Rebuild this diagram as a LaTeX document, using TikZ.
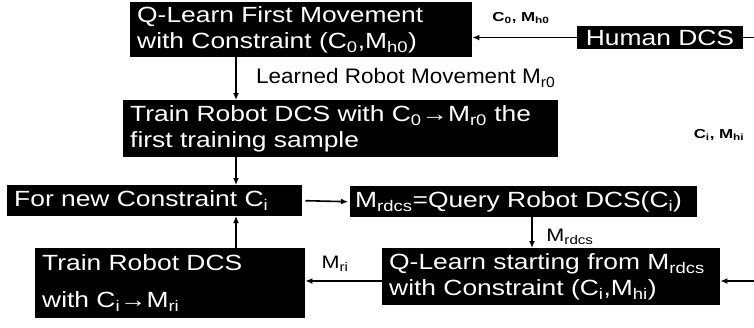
\documentclass[tikz,border=0pt]{standalone}
\usepackage{fontspec}
\setmainfont{Liberation Sans}
\newfontfamily\bxf[FakeStretch=1.2]{Liberation Sans}
\newfontfamily\lbf[FakeStretch=1.07]{Liberation Sans}
\newfontfamily\smf[FakeStretch=1.3]{Liberation Sans}
\usetikzlibrary{arrows.meta,calc}
\tikzset{
  box/.style={rectangle, fill=black, text=white, anchor=north west, inner xsep=7pt, inner ysep=0pt, align=left, font=\bxf\fontsize{22}{26}\selectfont},
  conn/.style={draw=black, line width=1.6pt, -{Latex[length=7pt,width=6pt]}},
  plain/.style={draw=black, line width=1.6pt},
  smlab/.style={inner sep=0pt, font=\smf\bfseries\fontsize{13}{15}\selectfont},
  mlab/.style={inner sep=0pt, font=\bxf\fontsize{18}{20}\selectfont},
}
\begin{document}
\begin{tikzpicture}[x=1pt,y=-1pt]
\useasboundingbox[fill=white] (0,0) rectangle (754,327);
% boxes
\node[box, minimum width=342pt, minimum height=55pt, text width=328pt] (b1) at (130,2)
  {Q-Learn First Movement\\with Constraint (C\textsubscript{0},M\textsubscript{h0})};
\node[box, anchor=center, align=center, minimum width=166pt, minimum height=23pt] (hd) at (660,37.5) {Human DCS};
\node[box, minimum width=435pt, minimum height=57pt, text width=421pt] (b2) at (123,100)
  {Train Robot DCS with C\textsubscript{0}→M\textsubscript{r0} the\\first training sample};
\node[box, minimum width=295pt, minimum height=31pt, text width=281pt] (b3) at (7,185)
  {For new Constraint C\textsubscript{i}};
\node[box, minimum width=347pt, minimum height=31pt, text width=337pt, inner xsep=5pt] (b4) at (350,186)
  {M\textsubscript{rdcs}=Query Robot DCS(C\textsubscript{i})};
\node[box, minimum width=270pt, minimum height=70pt, text width=256pt, font=\bxf\fontsize{22}{37}\selectfont] (b5) at (35,248)
  {Train Robot DCS\\with C\textsubscript{i}→M\textsubscript{ri}};
\node[box, minimum width=338pt, minimum height=57pt, text width=324pt] (b6) at (382,248)
  {Q-Learn starting from M\textsubscript{rdcs}\\with Constraint (C\textsubscript{i},M\textsubscript{hi})};
% edge coordinates
\coordinate (e1) at (754,37.5);
\coordinate (e2) at (754,281);
% labels
\node[smlab] (l1) at (521,18) {C\textsubscript{0}, M\textsubscript{h0}};
\node[smlab] (l2) at (719,135) {C\textsubscript{i}, M\textsubscript{hi}};
\node[inner sep=0pt, font=\lbf\fontsize{21}{24}\selectfont, anchor=west] (l3) at (256,78) {Learned Robot Movement M\textsubscript{r0}};
\node[mlab] (l4) at (335,264) {M\textsubscript{ri}};
\node[mlab] (l5) at (570,237) {M\textsubscript{rdcs}};
% connectors
\draw[conn] (hd.west) -- (hd.west -| b1.east);
\draw[plain] (hd.east) -- (e1);
\draw[conn] (236,57) -- (236,100);
\draw[conn] (236,157) -- (236,185);
\draw[conn] (236,248) -- (236,216);
\draw[conn] ($(b3.east)+(3,0)$) -- ($(b4.west)+(-2,0)$);
\draw[conn] (532,217) -- (532,248);
\draw[conn] (e2) -- (e2 -| b6.east);
\draw[conn] (b6.west |- 0,281) -- (b5.east |- 0,281);
\end{tikzpicture}
\end{document}
